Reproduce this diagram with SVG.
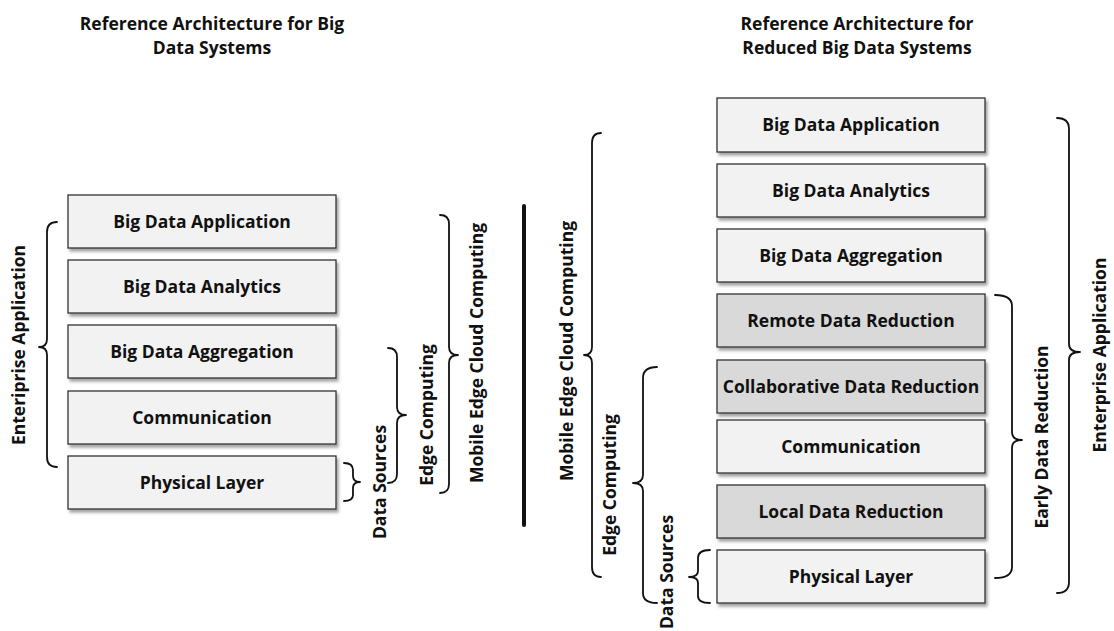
<svg xmlns="http://www.w3.org/2000/svg" width="1114" height="631" viewBox="0 0 1114 631">
<defs>
<filter id="sh" x="-5%" y="-10%" width="115%" height="140%">
<feDropShadow dx="2" dy="3" stdDeviation="1.6" flood-color="#555" flood-opacity="0.55"/>
</filter>
<style>
text{font-family:"Open Sans","Liberation Sans",sans-serif;font-weight:bold;font-size:17.5px;fill:#111;}
.c{text-anchor:middle;}
.box rect{stroke:#333;stroke-width:1.3;filter:url(#sh);}
.lt{fill:#f2f2f2;}
.dk{fill:#d9d9d9;}
.br{fill:none;stroke:#111;stroke-width:1.8;stroke-linecap:round;stroke-linejoin:round;}
</style>
</defs>
<rect width="1114" height="631" fill="#fff"/>

<g id="titles">
<text class="c" x="212" y="30">Reference Architecture for Big</text>
<text class="c" x="212" y="54">Data Systems</text>
<text class="c" x="857" y="30">Reference Architecture for</text>
<text class="c" x="857" y="54">Reduced Big Data Systems</text>
</g>

<g id="left-stack">
<g id="l-app" class="box"><rect class="lt" x="68" y="195" width="268" height="53"/><text class="c" x="202" y="228">Big Data Application</text></g>
<g id="l-analytics" class="box"><rect class="lt" x="68" y="260" width="268" height="53"/><text class="c" x="202" y="293">Big Data Analytics</text></g>
<g id="l-aggregation" class="box"><rect class="lt" x="68" y="325" width="268" height="53"/><text class="c" x="202" y="358">Big Data Aggregation</text></g>
<g id="l-comm" class="box"><rect class="lt" x="68" y="391" width="268" height="53"/><text class="c" x="202" y="424">Communication</text></g>
<g id="l-phys" class="box"><rect class="lt" x="68" y="456" width="268" height="53"/><text class="c" x="202" y="489">Physical Layer</text></g>
</g>

<g id="right-stack">
<g id="r-app" class="box"><rect class="lt" x="717" y="98" width="268" height="54"/><text class="c" x="851" y="131">Big Data Application</text></g>
<g id="r-analytics" class="box"><rect class="lt" x="717" y="164" width="268" height="53"/><text class="c" x="851" y="197">Big Data Analytics</text></g>
<g id="r-aggregation" class="box"><rect class="lt" x="717" y="229" width="268" height="53"/><text class="c" x="851" y="262">Big Data Aggregation</text></g>
<g id="r-remote" class="box"><rect class="dk" x="717" y="294" width="268" height="53"/><text class="c" x="851" y="327">Remote Data Reduction</text></g>
<g id="r-collab" class="box"><rect class="dk" x="717" y="360" width="268" height="53"/><text class="c" x="851" y="393">Collaborative Data Reduction</text></g>
<g id="r-comm" class="box"><rect class="lt" x="717" y="420" width="268" height="53"/><text class="c" x="851" y="453">Communication</text></g>
<g id="r-local" class="box"><rect class="dk" x="717" y="485" width="268" height="53"/><text class="c" x="851" y="518">Local Data Reduction</text></g>
<g id="r-phys" class="box"><rect class="lt" x="717" y="550" width="268" height="53"/><text class="c" x="851" y="583">Physical Layer</text></g>
</g>

<g id="connectors">
<!-- left diagram braces -->
<path class="br" d="M57 222 Q47 222 47 232 L47 339 Q47 347 39 347 Q47 347 47 355 L47 457 Q47 467 57 467"/>
<path class="br" d="M344 463 Q353 463 353 470 L353 476 Q353 482 360 482 Q353 482 353 488 L353 495 Q353 501 344 501"/>
<path class="br" d="M388 348 Q397 348 397 357 L397 407 Q397 415 406 415 Q397 415 397 423 L397 474 Q397 483 388 483"/>
<path class="br" d="M440 215 Q449 215 449 224 L449 347 Q449 355 458 355 Q449 355 449 363 L449 484 Q449 493 440 493"/>
<line x1="524" y1="206" x2="524" y2="525" stroke="#111" stroke-width="4" stroke-linecap="round"/>
<!-- right diagram braces -->
<path class="br" d="M601 133 Q592 133 592 143 L592 347 Q592 355 584 355 Q592 355 592 363 L592 567 Q592 577 601 577"/>
<path class="br" d="M657 367 Q643 367 643 378 L643 475 Q643 483 633 483 Q643 483 643 491 L643 593 Q643 603 657 603"/>
<path class="br" d="M710 550 Q698 550 698 558 L698 571 Q698 577 689 577 Q698 577 698 583 L698 596 Q698 603 710 603"/>
<path class="br" d="M995 295 Q1012 295 1012 306 L1012 432 Q1012 440 1022 440 Q1012 440 1012 448 L1012 567 Q1012 578 995 578"/>
<path class="br" d="M1057 118 Q1069 118 1069 129 L1069 344 Q1069 352 1080 352 Q1069 352 1069 360 L1069 582 Q1069 593 1057 593"/>
</g>

<g id="labels">
<text class="c" transform="translate(25 345) rotate(-90)">Enteriprise Application</text>
<text class="c" transform="translate(386 482) rotate(-90)">Data Sources</text>
<text class="c" transform="translate(433 415) rotate(-90)">Edge Computing</text>
<text class="c" transform="translate(483 353) rotate(-90)">Mobile Edge Cloud Computing</text>
<text class="c" transform="translate(573 351) rotate(-90)">Mobile Edge Cloud Computing</text>
<text class="c" transform="translate(616 485) rotate(-90)">Edge Computing</text>
<text class="c" transform="translate(673 572) rotate(-90)">Data Sources</text>
<text class="c" transform="translate(1048 437) rotate(-90)">Early Data Reduction</text>
<text class="c" transform="translate(1106 355) rotate(-90)">Enterprise Application</text>
</g>
</svg>
